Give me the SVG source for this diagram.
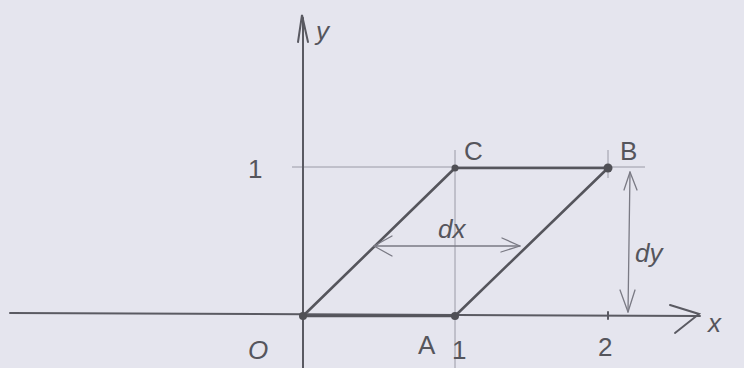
<svg xmlns="http://www.w3.org/2000/svg" width="744" height="368" viewBox="0 0 744 368">
<defs>
<style>
.guide{stroke:#9a9aa6;stroke-width:1;fill:none}
.axis{stroke:#5a5a62;stroke-width:2;fill:none;stroke-linecap:round}
.edge{stroke:#55555c;stroke-width:2.6;fill:none;stroke-linecap:round}
.dim{stroke:#7a7a84;stroke-width:1.3;fill:none;stroke-linecap:round;stroke-linejoin:round}
.lbl{font-family:"Liberation Sans","DejaVu Sans",sans-serif;fill:#55555c;font-size:26px}
.dot{fill:#505056}
</style>
</defs>
<rect width="744" height="368" fill="#e5e5ee"/>
<g id="guides">
<line class="guide" x1="292" y1="167" x2="645" y2="167"/>
<line class="guide" x1="455" y1="150" x2="455" y2="368"/>
<line class="guide" x1="608" y1="150" x2="608" y2="178"/>
</g>
<g id="axes">
<path class="axis" d="M10 313 L700 316"/>
<path class="axis" d="M670 305 L699 314 L675 333"/>
<path class="axis" d="M303 368 L303 18"/>
<path class="axis" d="M298 42 L302 15 L308 42"/>
<line class="axis" x1="608" y1="312" x2="608" y2="319"/>
</g>
<g id="connectors">
<path class="edge" d="M303 316 L455 316"/>
<path class="edge" d="M455 316 L608 168"/>
<path class="edge" d="M608 168 L455 168"/>
<path class="edge" d="M455 168 L303 316"/>
<path class="dim" d="M374 246 L520 246"/>
<path class="dim" d="M392 236 L374 246 L392 256"/>
<path class="dim" d="M502 238 L520 246 L501 252"/>
<path class="dim" d="M630 172 L628 312"/>
<path class="dim" d="M624 190 L630 172 L637 190"/>
<path class="dim" d="M620 290 L628 312 L635 290"/>
</g>
<g id="node-O"><circle class="dot" cx="303" cy="316" r="4"/><text class="lbl" x="248" y="359" font-size="24" font-style="italic">O</text></g>
<g id="node-A"><circle class="dot" cx="455" cy="316" r="4"/><text class="lbl" x="418" y="354">A</text><text class="lbl" x="452" y="359">1</text></g>
<g id="node-B"><circle class="dot" cx="608" cy="168" r="4.5"/><text class="lbl" x="620" y="160">B</text></g>
<g id="node-C"><circle class="dot" cx="455" cy="168" r="3.5"/><text class="lbl" x="464" y="160">C</text></g>
<g id="labels">
<text class="lbl" x="248" y="178">1</text>
<text class="lbl" x="316" y="40" font-style="italic">y</text>
<text class="lbl" x="598" y="356">2</text>
<text class="lbl" x="708" y="332" font-style="italic">x</text>
<text class="lbl" x="438" y="238" font-style="italic">dx</text>
<text class="lbl" x="635" y="262" font-style="italic">dy</text>
</g>
</svg>
